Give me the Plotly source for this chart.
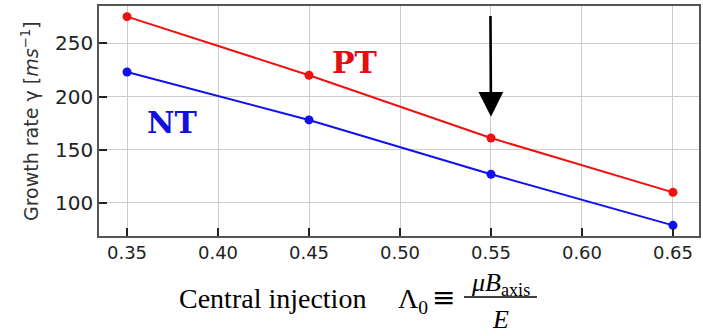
import plotly.graph_objects as go

lam = [0.35, 0.45, 0.55, 0.65]
gamma_pt = [275, 220, 161, 110]
gamma_nt = [223, 178, 127, 79]
x_ticks = [0.35, 0.40, 0.45, 0.50, 0.55, 0.60, 0.65]
x_ticklabels = ["0.35", "0.40", "0.45", "0.50", "0.55", "0.60", "0.65"]
y_ticks = [100, 150, 200, 250]

W, H = 703, 336
L, R, T, B = 99, 4, 6, 100
PW, PH = W - L - R, H - T - B

def px(xp):
    return (xp - L) / PW

def py(yp):
    return (H - B - yp) / PH

fig = go.Figure()
fig.add_trace(go.Scatter(x=lam, y=gamma_pt, mode="lines+markers",
                         line=dict(color="#f01010", width=2),
                         marker=dict(color="#f01010", size=9), showlegend=False))
fig.add_trace(go.Scatter(x=lam, y=gamma_nt, mode="lines+markers",
                         line=dict(color="#1010f0", width=2),
                         marker=dict(color="#1010f0", size=9), showlegend=False))

serif = "Liberation Serif"
ann = []
ann.append(dict(x=0.4753, y=232, xref="x", yref="y", text="<b>PT</b>", showarrow=False,
                font=dict(family="DejaVu Serif", size=30, color="#e01010")))
ann.append(dict(x=0.3747, y=176, xref="x", yref="y", text="<b>NT</b>", showarrow=False,
                font=dict(family="DejaVu Serif", size=30, color="#1010e0")))
ann.append(dict(x=0.55, y=181, xref="x", yref="y", ax=0.5497, ay=277, axref="x", ayref="y",
                text="", showarrow=True, arrowhead=2, arrowsize=1.9, arrowwidth=2.6,
                arrowcolor="black"))
ann.append(dict(x=px(177), y=py(298), xref="paper", yref="paper", xanchor="left", yanchor="middle",
                text="Central injection", showarrow=False,
                font=dict(family=serif, size=28, color="black")))
ann.append(dict(x=px(396), y=py(300), xref="paper", yref="paper", xanchor="left", yanchor="middle",
                text="Λ<sub>0</sub>", showarrow=False,
                font=dict(family=serif, size=28, color="black")))
ann.append(dict(x=px(443), y=py(297), xref="paper", yref="paper", xanchor="center", yanchor="middle",
                text="≡", showarrow=False,
                font=dict(family="DejaVu Serif", size=28, color="black")))
ann.append(dict(x=px(500), y=py(284), xref="paper", yref="paper", xanchor="center", yanchor="middle",
                text="<i>μB</i><sub>axis</sub>", showarrow=False,
                font=dict(family=serif, size=26, color="black")))
ann.append(dict(x=px(500), y=py(319), xref="paper", yref="paper", xanchor="center", yanchor="middle",
                text="<i>E</i>", showarrow=False,
                font=dict(family=serif, size=26, color="black")))
ann.append(dict(x=px(30), y=0.5, xref="paper", yref="paper", xanchor="center", yanchor="middle",
                text="Growth rate γ [<i>ms</i><sup>−1</sup>]", textangle=-90, showarrow=False,
                font=dict(family="DejaVu Sans", size=19, color="#333")))

fig.update_layout(
    width=W, height=H,
    margin=dict(l=L, r=R, t=T, b=B),
    paper_bgcolor="white", plot_bgcolor="white",
    annotations=ann,
    shapes=[dict(type="line", xref="paper", yref="paper", x0=px(464), x1=px(537),
                 y0=py(297), y1=py(297), line=dict(color="black", width=1.5))],
)
fig.update_xaxes(range=[0.3346, 0.6643], tickvals=x_ticks, ticktext=x_ticklabels,
                 showgrid=True, gridcolor="#cccccc", gridwidth=1,
                 ticks="inside", ticklen=8, tickwidth=2, tickcolor="#222",
                 showline=True, linecolor="#555", linewidth=1.5, mirror=True,
                 tickfont=dict(family="DejaVu Sans", size=18, color="#222"), zeroline=False,
                 automargin=False)
fig.update_yaxes(range=[69, 285], tickvals=y_ticks,
                 showgrid=True, gridcolor="#cccccc", gridwidth=1,
                 ticks="inside", ticklen=8, tickwidth=2, tickcolor="#222",
                 showline=True, linecolor="#555", linewidth=1.5, mirror=True,
                 tickfont=dict(family="DejaVu Sans", size=20, color="#222"), zeroline=False,
                 automargin=False)

fig.write_html("out.html", config={"displayModeBar": False},
               post_script="document.body.style.margin='0';")
